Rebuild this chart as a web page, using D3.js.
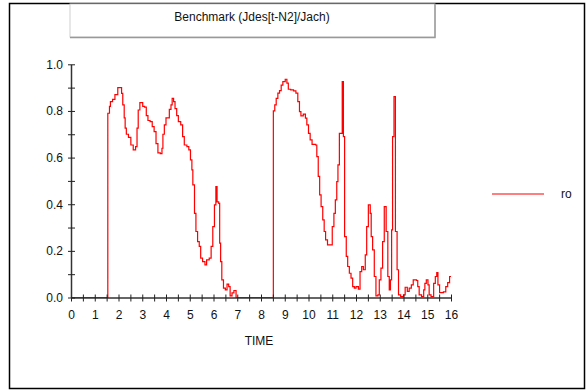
<!DOCTYPE html>
<html>
<head>
<meta charset="utf-8">
<script src="https://cdn.jsdelivr.net/npm/d3@7"></script>
<style>
  body { margin: 0; background: #fff; }
  svg { display: block; font-family: "Liberation Sans", Arial, sans-serif; }
</style>
</head>
<body>
<div id="chart"></div>
<script>
// data
const time = [0, 1.55, 1.62, 1.66, 1.75, 1.85, 1.97, 2.08, 2.13, 2.18, 2.24, 2.28, 2.33, 2.42, 2.52, 2.62, 2.72, 2.78, 2.83, 2.9,
  3.02, 3.1, 3.17, 3.24, 3.33, 3.42, 3.5, 3.58, 3.66, 3.76, 3.83, 3.87, 3.93, 4.0, 4.14, 4.21, 4.26, 4.32, 4.38, 4.45,
  4.52, 4.62, 4.7, 4.77, 4.88, 4.96, 5.03, 5.09, 5.13, 5.2, 5.26, 5.33, 5.4, 5.46, 5.54, 5.64, 5.71, 5.82, 5.9, 5.97,
  6.04, 6.1, 6.15, 6.22, 6.26, 6.3, 6.35, 6.42, 6.5, 6.57, 6.64, 6.7, 6.78, 6.86, 6.95,
  8.52, 8.58, 8.64, 8.71, 8.78, 8.85, 8.92, 9.02, 9.09, 9.15, 9.25, 9.37, 9.47, 9.55, 9.62, 9.68, 9.78, 9.87, 9.93,
  10.0, 10.07, 10.15, 10.3, 10.35, 10.41, 10.47, 10.53, 10.6, 10.66, 10.72, 10.8, 11.0, 11.07, 11.13, 11.19, 11.24, 11.3,
  11.42, 11.47, 11.52, 11.59, 11.65, 11.72, 11.79, 11.86, 11.93, 12.0, 12.1, 12.17, 12.24, 12.31, 12.39, 12.45, 12.52,
  12.6, 12.64, 12.7, 12.77, 12.84, 12.92, 12.98, 13.05, 13.12, 13.19, 13.27, 13.34, 13.4, 13.45, 13.5, 13.54, 13.6,
  13.66, 13.73, 13.79, 13.88, 14.0, 14.07, 14.16, 14.24, 14.33, 14.41, 14.55, 14.6, 14.66, 14.76, 14.85, 14.9, 14.96,
  15.03, 15.08, 15.16, 15.27, 15.34, 15.4, 15.45, 15.52, 15.68, 15.78, 15.86, 15.94, 16.0];
const ro = [0, 0.79, 0.82, 0.84, 0.85, 0.87, 0.90, 0.90, 0.875, 0.826, 0.77, 0.726, 0.70, 0.687, 0.654, 0.633, 0.647, 0.726, 0.804, 0.836,
  0.82, 0.816, 0.78, 0.759, 0.754, 0.733, 0.711, 0.66, 0.62, 0.617, 0.64, 0.70, 0.74, 0.77, 0.807, 0.826, 0.854, 0.84, 0.81, 0.78,
  0.754, 0.74, 0.69, 0.654, 0.647, 0.633, 0.59, 0.547, 0.483, 0.361, 0.283, 0.24, 0.219, 0.169, 0.154, 0.14, 0.161, 0.169, 0.219, 0.304,
  0.397, 0.476, 0.41, 0.404, 0.233, 0.154, 0.076, 0.04, 0.033, 0.057, 0.047, 0.007, 0.02, 0.03, 0,
  0.80, 0.826, 0.854, 0.876, 0.887, 0.911, 0.926, 0.936, 0.919, 0.893, 0.89, 0.886, 0.876, 0.84, 0.797, 0.779, 0.786, 0.769, 0.74,
  0.704, 0.676, 0.657, 0.654, 0.604, 0.519, 0.44, 0.39, 0.333, 0.283, 0.247, 0.226, 0.304, 0.361, 0.419, 0.497, 0.569, 0.704,
  0.926, 0.69, 0.261, 0.176, 0.133, 0.104, 0.083, 0.047, 0.04, 0.047, 0.036, 0.111, 0.133, 0.119, 0.183, 0.304, 0.397,
  0.361, 0.261, 0.204, 0.09, 0.007, 0.011, 0.076, 0.126, 0.24, 0.39, 0.283, 0.09, 0.033, 0.076, 0.29, 0.69, 0.861,
  0.283, 0.119, 0.011, 0.004, 0.011, 0.044, 0.026, 0.04, 0.054, 0.076, 0.073, 0.047, 0.011, 0.004, 0.033, 0.061, 0.076,
  0.054, 0.011, 0.004, 0.061, 0.09, 0.107, 0.054, 0.021, 0.024, 0.047, 0.064, 0.09, 0.09];
const xTicks = d3.range(0, 16.5, 0.5);
const yTicks = d3.range(0, 1.05, 0.1);
const title = "Benchmark (Jdes[t-N2]/Jach)";
const xLabel = "TIME";
const seriesName = "ro";

const width = 587, height = 390;
const svg = d3.select("#chart").append("svg")
    .attr("width", width)
    .attr("height", height);

// outer frame
svg.append("rect")
    .attr("x", 9.5).attr("y", 3.5)
    .attr("width", 575).attr("height", 385)
    .attr("fill", "none")
    .attr("stroke", "#000")
    .attr("stroke-width", 1.5);

// title box with shadow
svg.append("rect")
    .attr("x", 70).attr("y", 4)
    .attr("width", 365).attr("height", 33)
    .attr("fill", "#fff")
    .attr("stroke", "#d0d0d0");
svg.append("path")
    .attr("d", "M435,4V37.5H70")
    .attr("fill", "none")
    .attr("stroke", "#999")
    .attr("stroke-width", 1.5);
svg.append("text")
    .attr("x", 252).attr("y", 21)
    .attr("text-anchor", "middle")
    .attr("font-size", 12)
    .attr("fill", "#111")
    .text(title);

const x = d3.scaleLinear().domain([0, 16]).range([71, 451]);
const y = d3.scaleLinear().domain([0, 1]).range([297.5, 64.3]);

// line
const data = time.map((t, i) => ({t: t, v: ro[i]}));
svg.append("path")
    .datum(data)
    .attr("fill", "none")
    .attr("stroke", "#ff0000")
    .attr("stroke-width", 1.2)
    .attr("d", d3.line()
        .x(d => x(d.t))
        .y(d => y(d.v))
        .curve(d3.curveStepAfter));

// X axis
const xAxis = svg.append("g")
    .attr("transform", "translate(0," + y(0) + ")")
    .call(d3.axisBottom(x)
        .tickValues(xTicks)
        .tickSizeOuter(0)
        .tickSizeInner(4)
        .tickFormat(d => Number.isInteger(d) ? d : ""));
xAxis.select(".domain").attr("stroke", "#333").attr("stroke-width", 1.5);
xAxis.selectAll(".tick line").attr("y1", -3).attr("y2", 4).attr("stroke", "#222");
xAxis.selectAll(".tick text")
    .attr("y", 13)
    .attr("font-size", 12)
    .attr("font-family", "Liberation Sans, Arial, sans-serif")
    .attr("fill", "#111");

// Y axis
const yAxis = svg.append("g")
    .attr("transform", "translate(" + x(0) + ",0)")
    .call(d3.axisLeft(y)
        .tickValues(yTicks)
        .tickSizeOuter(0)
        .tickSizeInner(3)
        .tickFormat((d, i) => i % 2 === 0 ? d3.format(".1f")(d) : ""));
yAxis.select(".domain").attr("stroke", "#333").attr("stroke-width", 1.5);
yAxis.selectAll(".tick line").attr("x1", -3).attr("x2", 4).attr("stroke", "#222");
yAxis.selectAll(".tick text")
    .attr("x", -8)
    .attr("font-size", 12)
    .attr("font-family", "Liberation Sans, Arial, sans-serif")
    .attr("fill", "#111");

// x axis title
svg.append("text")
    .attr("x", 259).attr("y", 345)
    .attr("text-anchor", "middle")
    .attr("font-size", 12)
    .attr("fill", "#111")
    .text(xLabel);

// legend
svg.append("line")
    .attr("x1", 492).attr("x2", 544)
    .attr("y1", 194).attr("y2", 194)
    .attr("stroke", "#ff0000")
    .attr("stroke-width", 1.2);
svg.append("text")
    .attr("x", 561).attr("y", 198)
    .attr("font-size", 12)
    .attr("fill", "#111")
    .text(seriesName);
</script>
</body>
</html>
